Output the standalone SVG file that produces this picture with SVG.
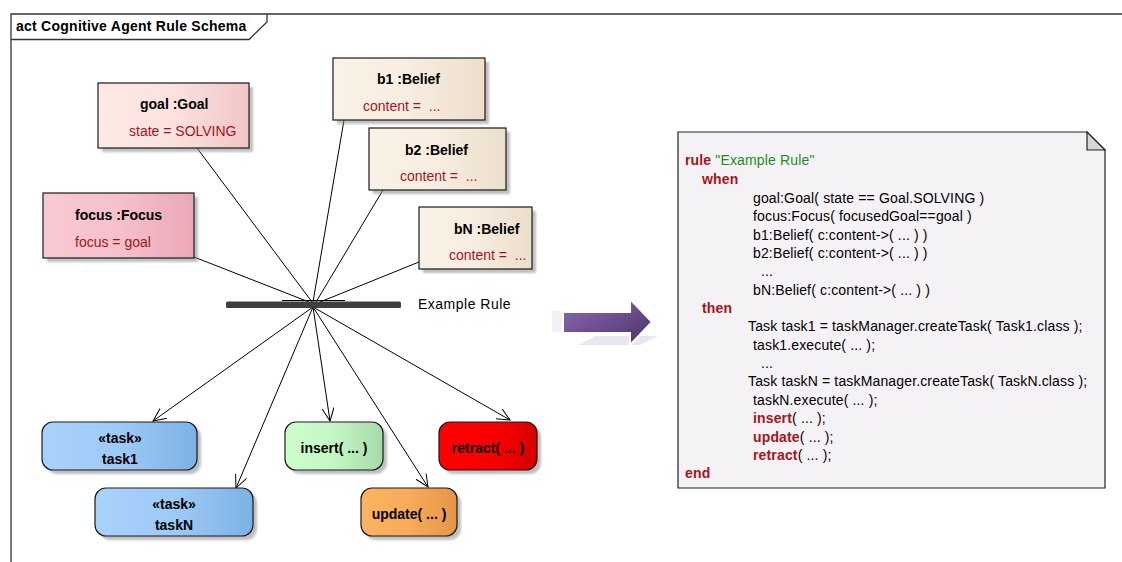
<svg xmlns="http://www.w3.org/2000/svg" width="1122" height="562" viewBox="0 0 1122 562">
  <style>
    text { font-family: "Liberation Sans", Arial, sans-serif; font-size: 14px; fill: #000; }
    .b { font-weight: bold; }
    .attr { fill: #a3151b; white-space: pre; }
    .kw { fill: #a3151b; font-weight: bold; }
    .str { fill: #1e8c1e; }
    .mid { text-anchor: middle; }
    .code { letter-spacing: 0.15px; }
    .box { stroke: #1a1a1a; stroke-width: 1.2; }
    .shadow { fill: #8c8c8c; opacity: 0.55; filter: url(#soft); }
    .edge { fill: none; stroke: #000; stroke-width: 1; }
    .frame { fill: none; stroke: #333; stroke-width: 1.3; }
  </style>
  <defs>
    <filter id="soft" x="-10%" y="-10%" width="120%" height="130%">
      <feGaussianBlur stdDeviation="1.2"/>
    </filter>
    <linearGradient id="gGoal" x1="0" x2="1" y1="0" y2="0">
      <stop offset="0" stop-color="#fde9e5"/><stop offset="0.5" stop-color="#fbe2df"/><stop offset="1" stop-color="#efc6c6"/>
    </linearGradient>
    <linearGradient id="gFocus" x1="0" x2="1" y1="0" y2="0">
      <stop offset="0" stop-color="#f9c9d1"/><stop offset="0.5" stop-color="#f6c1ca"/><stop offset="1" stop-color="#eaa8b5"/>
    </linearGradient>
    <linearGradient id="gBelief" x1="0" x2="1" y1="0" y2="0">
      <stop offset="0" stop-color="#faf2e6"/><stop offset="0.5" stop-color="#f7ede0"/><stop offset="1" stop-color="#ecdecb"/>
    </linearGradient>
    <linearGradient id="gTask" x1="0" x2="1" y1="0" y2="0">
      <stop offset="0" stop-color="#a9d2fb"/><stop offset="0.5" stop-color="#9ecaf6"/><stop offset="1" stop-color="#7db1e4"/>
    </linearGradient>
    <linearGradient id="gInsert" x1="0" x2="1" y1="0" y2="0">
      <stop offset="0" stop-color="#ccffcc"/><stop offset="0.5" stop-color="#c4f6c4"/><stop offset="1" stop-color="#a6daa6"/>
    </linearGradient>
    <linearGradient id="gUpdate" x1="0" x2="1" y1="0" y2="0">
      <stop offset="0" stop-color="#fcb460"/><stop offset="0.5" stop-color="#f7ab5a"/><stop offset="1" stop-color="#e69548"/>
    </linearGradient>
    <linearGradient id="gRetract" x1="0" x2="1" y1="0" y2="0">
      <stop offset="0" stop-color="#ff0000"/><stop offset="0.6" stop-color="#f80000"/><stop offset="1" stop-color="#d40000"/>
    </linearGradient>
    <linearGradient id="gArrow" x1="0" x2="1" y1="0" y2="1">
      <stop offset="0" stop-color="#8c6cb0"/><stop offset="0.55" stop-color="#6a4c8e"/><stop offset="1" stop-color="#45305f"/>
    </linearGradient>
    <marker id="open" markerUnits="userSpaceOnUse" markerWidth="16" markerHeight="14" refX="13" refY="6" orient="auto">
      <path d="M0,0 L13,6 L0,12" fill="none" stroke="#000" stroke-width="1"/>
    </marker>
  </defs>

  <!-- activity frame -->
  <g id="frame">
    <path class="frame" d="M11,562 V14 H1122"/>
    <path class="frame" d="M11,39.5 H249 L267,22 V14"/>
    <text class="b" x="16" y="31" letter-spacing="0.25">act Cognitive Agent Rule Schema</text>
  </g>

  <!-- object flows into and out of the rule bar -->
  <g id="connectors">
    <line class="edge" x1="197" y1="148" x2="312" y2="302"/>
    <line class="edge" x1="194" y1="257" x2="309" y2="302"/>
    <line class="edge" x1="344" y1="120" x2="313" y2="302"/>
    <line class="edge" x1="383" y1="190" x2="316" y2="302"/>
    <line class="edge" x1="419" y1="262" x2="320" y2="302"/>
    <line class="edge" x1="313" y1="307" x2="153" y2="421" marker-end="url(#open)"/>
    <line class="edge" x1="313" y1="307" x2="236" y2="488" marker-end="url(#open)"/>
    <line class="edge" x1="313" y1="307" x2="330" y2="421" marker-end="url(#open)"/>
    <line class="edge" x1="313" y1="307" x2="428" y2="487" marker-end="url(#open)"/>
    <line class="edge" x1="313" y1="307" x2="510" y2="420" marker-end="url(#open)"/>
  </g>

  <g id="rule-bar">
    <line x1="282" y1="300.5" x2="345" y2="300.5" stroke="#000" stroke-width="1"/>
    <rect x="226" y="301.5" width="175" height="6.5" rx="1.5" fill="#3f3f3f"/>
    <text x="418" y="309" letter-spacing="0.5">Example Rule</text>
  </g>

  <g id="goal">
    <rect class="shadow" x="102" y="87" width="151" height="65"/>
    <rect class="box" x="98" y="83" width="151" height="65" fill="url(#gGoal)"/>
    <text class="b" x="140" y="109">goal :Goal</text>
    <text class="attr" x="129" y="136">state = SOLVING</text>
  </g>

  <g id="focus">
    <rect class="shadow" x="47" y="197" width="151" height="65"/>
    <rect class="box" x="43" y="193" width="151" height="65" fill="url(#gFocus)"/>
    <text class="b" x="75" y="220">focus :Focus</text>
    <text class="attr" x="75" y="247">focus = goal</text>
  </g>

  <g id="b1">
    <rect class="shadow" x="337" y="62" width="152" height="62"/>
    <rect class="box" x="333" y="58" width="152" height="62" fill="url(#gBelief)"/>
    <text class="b" x="377" y="84">b1 :Belief</text>
    <text class="attr" x="363" y="111">content =  ...</text>
  </g>

  <g id="b2">
    <rect class="shadow" x="373" y="132" width="137" height="62"/>
    <rect class="box" x="369" y="128" width="137" height="62" fill="url(#gBelief)"/>
    <text class="b" x="405" y="155">b2 :Belief</text>
    <text class="attr" x="400" y="181">content =  ...</text>
  </g>

  <g id="bN">
    <rect class="shadow" x="423" y="211" width="113" height="62"/>
    <rect class="box" x="419" y="207" width="113" height="62" fill="url(#gBelief)"/>
    <text class="b" x="454" y="234">bN :Belief</text>
    <text class="attr" x="449" y="260">content =  ...</text>
  </g>

  <g id="task1">
    <rect class="shadow" x="46" y="426" width="155" height="48" rx="11"/>
    <rect class="box" x="42" y="422" width="155" height="48" rx="11" fill="url(#gTask)"/>
    <text class="b mid" x="120" y="443">«task»</text>
    <text class="b mid" x="120" y="464">task1</text>
  </g>

  <g id="taskN">
    <rect class="shadow" x="99" y="492" width="158" height="48" rx="11"/>
    <rect class="box" x="95" y="488" width="158" height="48" rx="11" fill="url(#gTask)"/>
    <text class="b mid" x="174" y="509">«task»</text>
    <text class="b mid" x="174" y="530">taskN</text>
  </g>

  <g id="insert">
    <rect class="shadow" x="289" y="426" width="98" height="48" rx="11"/>
    <rect class="box" x="285" y="422" width="98" height="48" rx="11" fill="url(#gInsert)"/>
    <text class="b mid" x="334" y="453">insert( ... )</text>
  </g>

  <g id="update">
    <rect class="shadow" x="365" y="492" width="96" height="48" rx="11"/>
    <rect class="box" x="361" y="488" width="96" height="48" rx="11" fill="url(#gUpdate)"/>
    <text class="b mid" x="409" y="519">update( ... )</text>
  </g>

  <g id="retract">
    <rect class="shadow" x="443" y="426" width="98" height="48" rx="11"/>
    <rect class="box" x="439" y="422" width="98" height="48" rx="11" fill="url(#gRetract)"/>
    <text class="b mid" x="488" y="453">retract( ... )</text>
  </g>

  <!-- translation arrow with a faint reflection -->
  <g id="arrow">
    <polygon points="578,345 640,345 658,336 596,336" fill="#ebe5f1"/>
    <polygon points="552,311 563,311 563,332 552,332" fill="#f3f0f7"/>
    <polygon points="563,312 630,312 630,299 652,322 630,345 630,333 563,333" fill="url(#gArrow)" stroke="#fff" stroke-width="2" stroke-linejoin="miter"/>
  </g>

  <!-- rule source note -->
  <g id="rule-note" class="code">
    <path d="M678,132 H1087 L1105,150 V488 H678 Z" fill="#f5f2f6" stroke="#222" stroke-width="1.2"/>
    <path d="M1087,132 V150 H1105 Z" fill="#d6d6d8" stroke="#222" stroke-width="1.2"/>
    <text x="685" y="165"><tspan class="kw">rule</tspan> <tspan class="str">"Example Rule"</tspan></text>
    <text class="kw" x="702" y="184">when</text>
    <text x="753" y="203">goal:Goal( state == Goal.SOLVING )</text>
    <text x="753" y="221">focus:Focus( focusedGoal==goal )</text>
    <text x="753" y="240">b1:Belief( c:content-&gt;( ... ) )</text>
    <text x="753" y="258">b2:Belief( c:content-&gt;( ... ) )</text>
    <text x="761" y="276">...</text>
    <text x="753" y="295">bN:Belief( c:content-&gt;( ... ) )</text>
    <text class="kw" x="702" y="313">then</text>
    <text x="748" y="331">Task task1 = taskManager.createTask( Task1.class );</text>
    <text x="753" y="350">task1.execute( ... );</text>
    <text x="761" y="368">...</text>
    <text x="748" y="386">Task taskN = taskManager.createTask( TaskN.class );</text>
    <text x="753" y="405">taskN.execute( ... );</text>
    <text x="753" y="423"><tspan class="kw">insert</tspan>( ... );</text>
    <text x="753" y="442"><tspan class="kw">update</tspan>( ... );</text>
    <text x="753" y="460"><tspan class="kw">retract</tspan>( ... );</text>
    <text class="kw" x="685" y="478">end</text>
  </g>
</svg>
